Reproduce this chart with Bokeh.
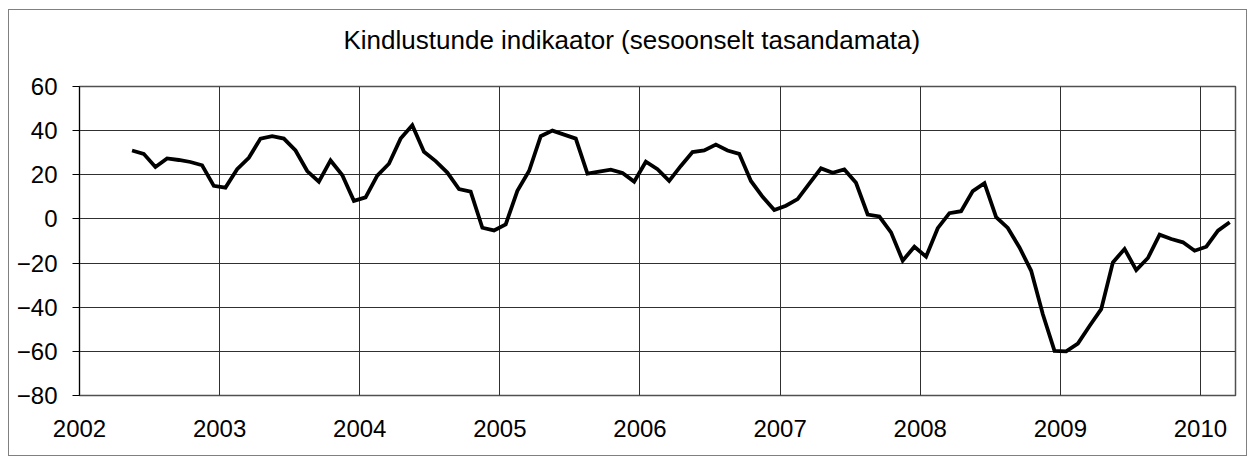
from bokeh.plotting import figure
from bokeh.models import FixedTicker, Range1d, Title
from bokeh.embed import file_html
from bokeh.resources import INLINE

title_text = "Kindlustunde indikaator (sesoonselt tasandamata)"

start_year = 2002
start_month = 5  # May 2002, monthly data
values = [31.0, 29.5, 23.5, 27.4, 26.7, 25.8, 24.3, 15.0,                      # 2002 May-Dec
          14.2, 22.5, 27.7, 36.4, 37.5, 36.4, 31.0, 21.7, 16.9, 26.5, 19.9, 8.2,  # 2003
          9.8, 19.6, 25.0, 36.4, 42.4, 30.4, 26.2, 21.0, 13.5, 12.4, -4.0, -5.2,  # 2004
          -2.5, 12.7, 21.7, 37.5, 40.0, 38.2, 36.4, 20.5, 21.4, 22.3, 20.8, 16.9,  # 2005
          25.9, 22.5, 17.2, 24.0, 30.3, 31.0, 33.7, 31.0, 29.5, 17.2, 10.0, 4.0,  # 2006
          6.0, 9.0, 16.0, 22.9, 20.9, 22.4, 16.4, 2.0, 1.1, -6.1, -18.9, -12.6,   # 2007
          -17.1, -4.2, 2.6, 3.5, 12.6, 16.2, 0.8, -4.1, -12.9, -23.5, -43.2, -59.8,  # 2008
          -60.0, -56.5, -48.5, -40.9, -19.7, -13.6, -23.2, -17.7, -7.1, -9.1, -10.6, -14.4,  # 2009
          -12.6, -5.3, -1.5]                                                      # 2010 Jan-Mar

year_ticks = [2002, 2003, 2004, 2005, 2006, 2007, 2008, 2009, 2010]
y_ticks = [-80, -60, -40, -20, 0, 20, 40, 60]

# mid-month positions on a decimal-year axis
xs = []
for i in range(len(values)):
    m = start_month - 1 + i
    xs.append(start_year + m // 12 + ((m % 12) + 0.5) / 12.0)

FONT = "Liberation Sans"

p = figure(width=1239, height=447, output_backend="svg", toolbar_location=None,
           x_range=Range1d(2002, 2010.25), y_range=Range1d(-80, 60),
           min_border_left=70, min_border_right=13, min_border_top=76, min_border_bottom=62)
p.styles = {"border": "1px solid #808080", "margin-left": "8px", "margin-top": "9px"}
p.background_fill_color = "white"
p.border_fill_color = "white"
p.outline_line_color = "#505050"
p.outline_line_width = 1.5

t = Title(text=title_text, align="left", offset=264, text_font=FONT,
          text_font_size="26px", text_font_style="normal", text_color="black", standoff=6,
          padding=dict(left=0, right=0, top=0, bottom=29))
p.add_layout(t, "above")

p.line(xs, values, line_color="black", line_width=3.8, line_join="miter")

p.xaxis.ticker = FixedTicker(ticks=year_ticks)
p.yaxis.ticker = FixedTicker(ticks=y_ticks)
p.xgrid.ticker = FixedTicker(ticks=year_ticks)
p.ygrid.ticker = FixedTicker(ticks=y_ticks)
p.xaxis.major_label_overrides = {y: str(y) for y in year_ticks}
for g in (p.xgrid, p.ygrid):
    g.grid_line_color = "#303030"
    g.grid_line_width = 1

p.yaxis.major_tick_out = 7
p.yaxis.major_tick_in = 0
p.yaxis.minor_tick_line_color = None
p.yaxis.axis_line_color = "black"
p.yaxis.major_tick_line_color = "black"
p.yaxis.major_label_standoff = 15
p.xaxis.major_tick_out = 0
p.xaxis.major_tick_in = 0
p.xaxis.minor_tick_line_color = None
p.xaxis.major_tick_line_color = None
p.xaxis.axis_line_color = None
p.xaxis.major_label_standoff = 24
for ax in (p.xaxis, p.yaxis):
    ax.major_label_text_font = FONT
    ax.major_label_text_font_size = "24px"
    ax.major_label_text_color = "black"

open("out.html", "w").write(file_html(p, INLINE))
